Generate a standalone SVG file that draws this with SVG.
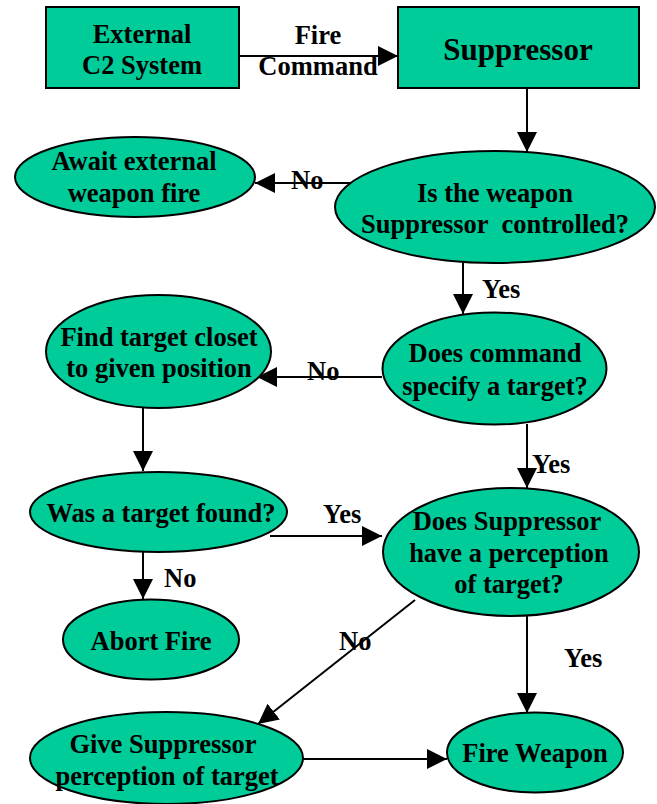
<svg xmlns="http://www.w3.org/2000/svg" width="657" height="804" viewBox="0 0 657 804" font-family="'Liberation Serif', 'Times New Roman', Times, serif" font-weight="bold" font-size="26.5">
<style>
.n{fill:#00CC99;stroke:#000;stroke-width:2}
.c{text-anchor:middle}
.e{stroke:#000;stroke-width:2;fill:none;marker-end:url(#ah)}
</style>
<defs>
<marker id="ah" markerUnits="userSpaceOnUse" markerWidth="20" markerHeight="20" refX="20" refY="10" orient="auto" viewBox="0 0 20 20">
<path d="M0,0 L20,10 L0,20 z" fill="#000"/>
</marker>
</defs>
<rect width="657" height="804" fill="#fff"/>
<g id="connectors">
<line class="e" x1="239" y1="56" x2="398" y2="56"/>
<line class="e" x1="527" y1="88" x2="527" y2="152"/>
<line class="e" x1="352" y1="183" x2="255" y2="183"/>
<line class="e" x1="463" y1="263" x2="463" y2="314"/>
<line class="e" x1="382" y1="377" x2="257" y2="377"/>
<line class="e" x1="143" y1="408" x2="143" y2="471"/>
<line class="e" x1="527" y1="424" x2="527" y2="488"/>
<line class="e" x1="270" y1="536" x2="382" y2="536"/>
<line class="e" x1="143" y1="552" x2="143" y2="599"/>
<line class="e" x1="415" y1="600" x2="258" y2="724"/>
<line class="e" x1="527" y1="616" x2="527" y2="713"/>
<line class="e" x1="303" y1="759" x2="447" y2="759"/>
<text x="318" y="44" class="c">Fire</text>
<text x="318" y="75" class="c">Command</text>
<text x="291" y="189">No</text>
<text x="482" y="298">Yes</text>
<text x="307" y="380">No</text>
<text x="532" y="473">Yes</text>
<text x="323" y="523">Yes</text>
<text x="164" y="587">No</text>
<text x="339" y="650">No</text>
<text x="564" y="667">Yes</text>
</g>
<g id="external-c2">
<rect class="n" x="46" y="7" width="193" height="81"/>
<text x="142" y="43" class="c">External</text>
<text x="142" y="74" class="c">C2 System</text>
</g>
<g id="suppressor">
<rect class="n" x="398" y="7" width="241" height="81"/>
<text x="518" y="60" class="c" font-size="31">Suppressor</text>
</g>
<g id="await-fire">
<ellipse class="n" cx="135" cy="177" rx="120" ry="40"/>
<text x="134" y="170" class="c">Await external</text>
<text x="134" y="202" class="c">weapon fire</text>
</g>
<g id="is-controlled">
<ellipse class="n" cx="495" cy="207" rx="160" ry="56"/>
<text x="495" y="202" class="c">Is the weapon</text>
<text x="495" y="233" class="c" xml:space="preserve">Suppressor  controlled?</text>
</g>
<g id="find-target">
<ellipse class="n" cx="158.5" cy="351.5" rx="112.5" ry="56.5"/>
<text x="159" y="346" class="c">Find target closet</text>
<text x="159" y="377" class="c">to given position</text>
</g>
<g id="specify-target">
<ellipse class="n" cx="494.5" cy="368.5" rx="112" ry="56"/>
<text x="495" y="362" class="c">Does command</text>
<text x="495" y="395" class="c">specify a target?</text>
</g>
<g id="target-found">
<ellipse class="n" cx="158.5" cy="512" rx="128.5" ry="40"/>
<text x="161" y="522" class="c">Was a target found?</text>
</g>
<g id="has-perception">
<ellipse class="n" cx="511" cy="552" rx="128" ry="64"/>
<text x="507" y="530" class="c">Does Suppressor</text>
<text x="509" y="562" class="c">have a perception</text>
<text x="509" y="593" class="c">of target?</text>
</g>
<g id="abort-fire">
<ellipse class="n" cx="151" cy="639.5" rx="88" ry="40"/>
<text x="151" y="650" class="c">Abort Fire</text>
</g>
<g id="give-perception">
<ellipse class="n" cx="166.5" cy="758" rx="136.5" ry="46"/>
<text x="163" y="753" class="c">Give Suppressor</text>
<text x="167" y="785" class="c">perception of target</text>
</g>
<g id="fire-weapon">
<ellipse class="n" cx="535" cy="752.5" rx="88" ry="40"/>
<text x="535" y="762" class="c">Fire Weapon</text>
</g>
</svg>
